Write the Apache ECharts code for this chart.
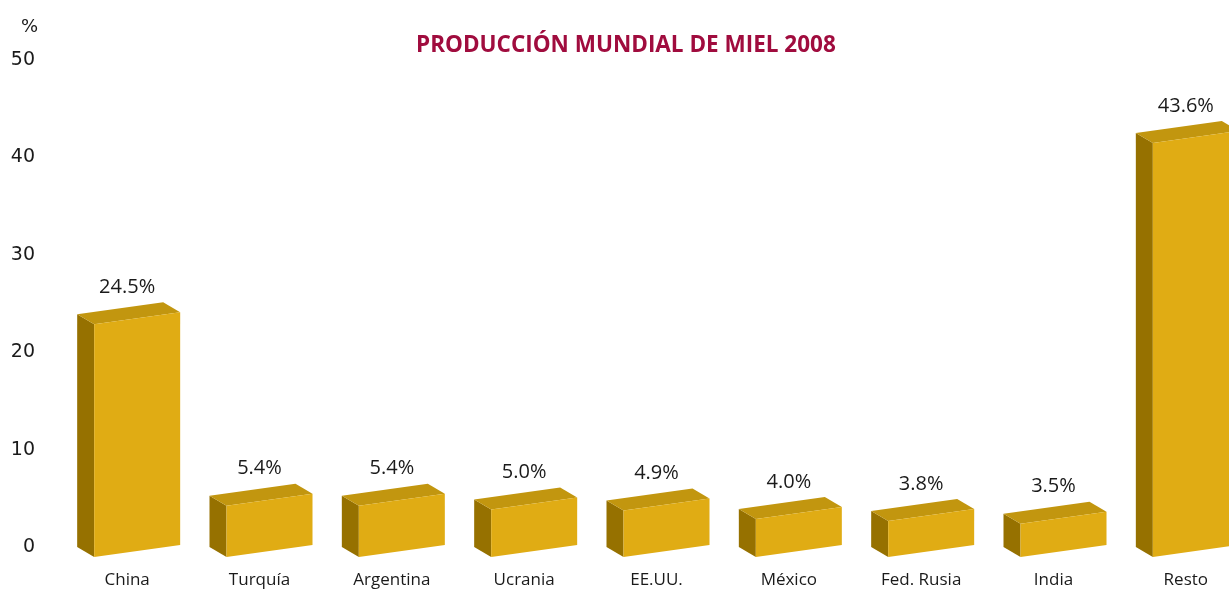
<!DOCTYPE html>
<html lang="es">

<head>
    <meta charset="UTF-8">
    <title>Producción mundial de miel 2008</title>
</head>
<style>
    body {
        margin: 0;
        background: #fff;
    }

    #main {
        width: 1229px;
        height: 590px;
    }
</style>

<body>
    <div id="main"></div>
    <script src="https://cdn.jsdelivr.net/npm/echarts@6/dist/echarts.min.js"></script>
    <script>
        const countries = ['China', 'Turquía', 'Argentina', 'Ucrania', 'EE.UU.', 'México', 'Fed. Rusia', 'India', 'Resto']
        const shares = [24.5, 5.4, 5.4, 5.0, 4.9, 4.0, 3.8, 3.5, 43.6]
        const yTicks = [0, 10, 20, 30, 40, 50]

        const FRONT = '#e0ac14'
        const SIDE = '#967100'
        const TOP = '#c2960f'
        const TEXT = '#1a1a1a'

        let chart = echarts.init(document.getElementById('main'))

        // tilted box: front face from the baseline up to the value, depth drawn to the upper left
        function renderBox(params, api) {
            const top = api.coord([api.value(0), api.value(1)])
            const base = api.coord([api.value(0), 0])
            const x = top[0]
            const yTop = top[1]
            const y0 = base[1]
            const half = 43, tilt = 6, dx = -17, dy = -10, shift = 10
            const fx0 = x + shift - half
            const fx1 = x + shift + half
            const bl = [fx0, y0 + tilt]
            const br = [fx1, y0 - tilt]
            const tl = [fx0, yTop + tilt]
            const tr = [fx1, yTop - tilt]
            const back = p => [p[0] + dx, p[1] + dy]
            return {
                type: 'group',
                children: [
                    {
                        type: 'polygon',
                        shape: { points: [tl, bl, back(bl), back(tl)] },
                        style: { fill: SIDE }
                    },
                    {
                        type: 'polygon',
                        shape: { points: [tl, tr, back(tr), back(tl)] },
                        style: { fill: TOP }
                    },
                    {
                        type: 'polygon',
                        shape: { points: [tl, tr, br, bl] },
                        style: { fill: FRONT }
                    },
                    {
                        type: 'text',
                        x: x,
                        y: yTop - 31,
                        style: {
                            text: api.value(1).toFixed(1) + '%',
                            textAlign: 'center',
                            textVerticalAlign: 'middle',
                            fontFamily: 'Open Sans',
                            fontSize: 20,
                            fill: TEXT
                        }
                    }
                ]
            }
        }

        const hiddenAxis = {
            axisLine: { show: false },
            axisTick: { show: false },
            axisLabel: { show: false },
            splitLine: { show: false }
        }

        let option = {
            animation: false,
            title: [
                {
                    text: 'PRODUCCIÓN MUNDIAL DE MIEL 2008',
                    left: 411,
                    top: 29,
                    textStyle: {
                        fontFamily: 'Open Sans',
                        fontWeight: 'bold',
                        fontSize: 22.5,
                        color: '#a00c3e'
                    }
                },
                {
                    text: '%',
                    left: 16,
                    top: 13,
                    textStyle: {
                        fontFamily: 'DejaVu Sans',
                        fontWeight: 'normal',
                        fontSize: 18,
                        color: TEXT
                    }
                }
            ],
            // grid 0 carries the scale labels, grid 1 the boxes (the boxes sit a bit lower)
            grid: [
                { left: 61, top: 60, width: 1191, height: 487, outerBoundsMode: 'none' },
                { left: 61, top: 60, width: 1191, height: 491, outerBoundsMode: 'none' }
            ],
            xAxis: [
                Object.assign({ type: 'category', gridIndex: 0, data: countries }, hiddenAxis),
                {
                    type: 'category',
                    gridIndex: 1,
                    data: countries,
                    axisLine: { show: false },
                    axisTick: { show: false },
                    axisLabel: {
                        margin: 21,
                        fontFamily: 'Open Sans',
                        fontSize: 17,
                        color: TEXT
                    }
                }
            ],
            yAxis: [
                {
                    type: 'value',
                    gridIndex: 0,
                    min: yTicks[0],
                    max: yTicks[yTicks.length - 1],
                    interval: 10,
                    splitLine: { show: false },
                    axisLine: { show: false },
                    axisTick: { show: false },
                    axisLabel: {
                        margin: 26,
                        fontFamily: 'DejaVu Sans',
                        fontSize: 19,
                        color: TEXT
                    }
                },
                Object.assign({ type: 'value', gridIndex: 1, min: 0, max: 51.7 }, hiddenAxis)
            ],
            series: [
                {
                    type: 'custom',
                    xAxisIndex: 1,
                    yAxisIndex: 1,
                    renderItem: renderBox,
                    clip: false,
                    data: shares.map((v, i) => [i, v])
                }
            ]
        }
        chart.setOption(option)
    </script>
</body>

</html>
